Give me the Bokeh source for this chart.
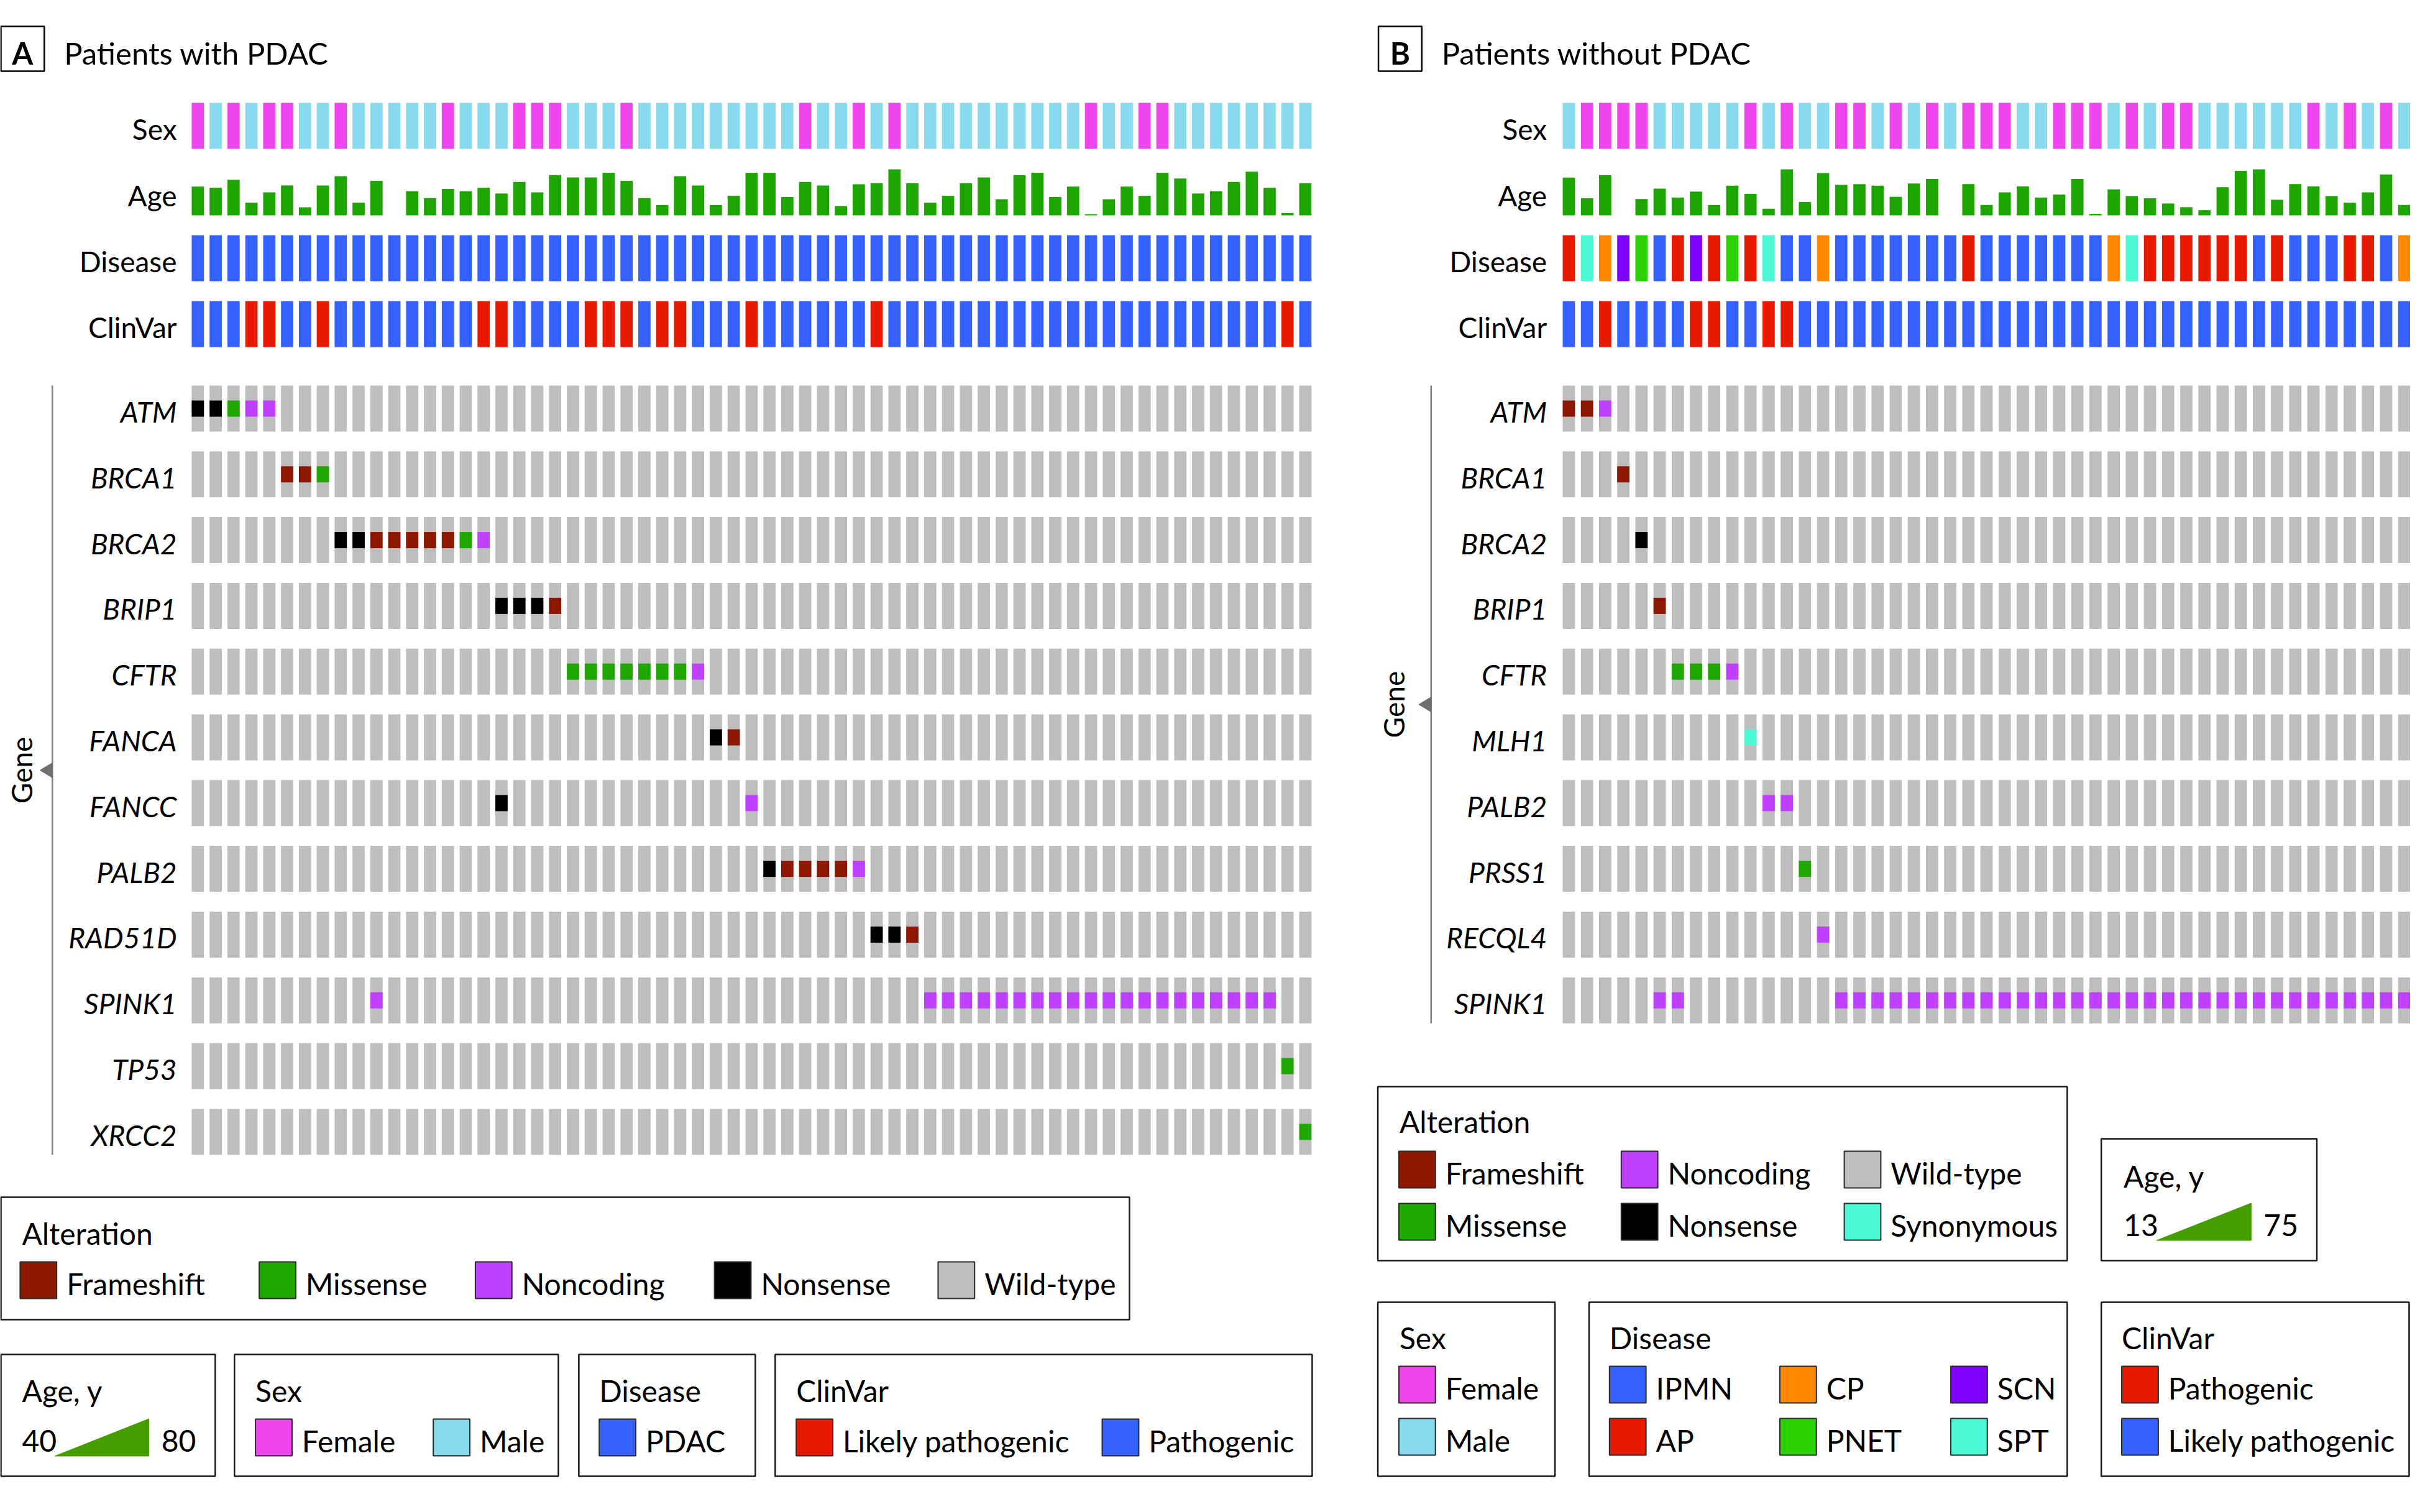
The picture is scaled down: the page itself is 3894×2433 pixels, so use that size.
import math
from bokeh.plotting import figure
from bokeh.models import Range1d, ColumnDataSource
from bokeh.core.properties import value
from bokeh.embed import file_html
from bokeh.resources import INLINE

# ======================= DATA =======================
# ---- Panel A: patients with PDAC (63 patients) ----
genes_A = ["ATM", "BRCA1", "BRCA2", "BRIP1", "CFTR", "FANCA", "FANCC",
           "PALB2", "RAD51D", "SPINK1", "TP53", "XRCC2"]
sex_A = list("FMFMFFMMFMMMMMFMMMFFFMMMFMMMMMMM" "MMFMMFMFMMMMMMMMMMFMMFFMMMMMMMM")
age_A = [65, 64, 71, 51, 60, 66, 47, 66, 74, 51, 70, 40, 61, 55, 63, 61, 64, 59, 69, 60,
         75, 73, 73, 77, 70, 55, 49, 74, 66, 49, 57, 77, 77, 56, 69, 66, 48, 67, 68, 80,
         68, 51, 57, 68, 73, 54, 75, 77, 56, 65, 41, 54, 65, 57, 77, 72, 59, 61, 69, 78,
         64, 42, 68]
age_range_A = [40, 80]
disease_A = ["PDAC"] * 63
clinvar_A = list("PPPLLPPLPP" "PPPPPPLLPP" "PPLLLPLLPP" "PLPPPPPPLP"
                 "PPPPPPPPPP" "PPPPPPPPPP" "PLP")   # P = Pathogenic, L = Likely pathogenic
mut_A = [("ATM", 0, "Nonsense"), ("ATM", 1, "Nonsense"), ("ATM", 2, "Missense"),
         ("ATM", 3, "Noncoding"), ("ATM", 4, "Noncoding"),
         ("BRCA1", 5, "Frameshift"), ("BRCA1", 6, "Frameshift"), ("BRCA1", 7, "Missense"),
         ("BRCA2", 8, "Nonsense"), ("BRCA2", 9, "Nonsense"), ("BRCA2", 10, "Frameshift"),
         ("BRCA2", 11, "Frameshift"), ("BRCA2", 12, "Frameshift"), ("BRCA2", 13, "Frameshift"),
         ("BRCA2", 14, "Frameshift"), ("BRCA2", 15, "Missense"), ("BRCA2", 16, "Noncoding"),
         ("BRIP1", 17, "Nonsense"), ("BRIP1", 18, "Nonsense"), ("BRIP1", 19, "Nonsense"),
         ("BRIP1", 20, "Frameshift"),
         ("CFTR", 21, "Missense"), ("CFTR", 22, "Missense"), ("CFTR", 23, "Missense"),
         ("CFTR", 24, "Missense"), ("CFTR", 25, "Missense"), ("CFTR", 26, "Missense"),
         ("CFTR", 27, "Missense"), ("CFTR", 28, "Noncoding"),
         ("FANCA", 29, "Nonsense"), ("FANCA", 30, "Frameshift"),
         ("FANCC", 17, "Nonsense"), ("FANCC", 31, "Noncoding"),
         ("PALB2", 32, "Nonsense"), ("PALB2", 33, "Frameshift"), ("PALB2", 34, "Frameshift"),
         ("PALB2", 35, "Frameshift"), ("PALB2", 36, "Frameshift"), ("PALB2", 37, "Noncoding"),
         ("RAD51D", 38, "Nonsense"), ("RAD51D", 39, "Nonsense"), ("RAD51D", 40, "Frameshift"),
         ("SPINK1", 10, "Noncoding")] + \
        [("SPINK1", c, "Noncoding") for c in range(41, 61)] + \
        [("TP53", 61, "Missense"), ("XRCC2", 62, "Missense")]

# ---- Panel B: patients without PDAC (47 patients) ----
genes_B = ["ATM", "BRCA1", "BRCA2", "BRIP1", "CFTR", "MLH1", "PALB2", "PRSS1", "RECQL4", "SPINK1"]
sex_B = list("MFFFFMMMMM" "FMFMMFFMFM" "FMFFFMMFFF" "MFMFFMMMMM" "MFMFMFM")
age_B = [64, 36, 67, 13, 35, 49, 37, 45, 27, 53, 42, 22, 75, 31, 70, 54, 55, 53, 38, 56,
         62, 13, 55, 27, 44, 52, 37, 41, 62, 15, 48, 39, 36, 29, 24, 20, 51, 73, 75, 34,
         55, 52, 39, 30, 44, 68, 27]
age_range_B = [13, 75]
disease_B = ["AP", "SPT", "CP", "SCN", "PNET", "IPMN", "AP", "SCN", "AP", "PNET",
             "AP", "SPT", "IPMN", "IPMN", "CP", "IPMN", "IPMN", "IPMN", "IPMN", "IPMN",
             "IPMN", "IPMN", "AP", "IPMN", "IPMN", "IPMN", "IPMN", "IPMN", "IPMN", "IPMN",
             "CP", "SPT", "AP", "AP", "AP", "AP", "AP", "AP", "IPMN", "AP",
             "IPMN", "IPMN", "IPMN", "AP", "AP", "IPMN", "CP"]
clinvar_B = list("LLPLLLLPPL" "LPPLLLLLLL" "LLLLLLLLLL" "LLLLLLLLLL" "LLLLLLL")
mut_B = [("ATM", 0, "Frameshift"), ("ATM", 1, "Frameshift"), ("ATM", 2, "Noncoding"),
         ("BRCA1", 3, "Frameshift"), ("BRCA2", 4, "Nonsense"), ("BRIP1", 5, "Frameshift"),
         ("CFTR", 6, "Missense"), ("CFTR", 7, "Missense"), ("CFTR", 8, "Missense"),
         ("CFTR", 9, "Noncoding"), ("MLH1", 10, "Synonymous"),
         ("PALB2", 11, "Noncoding"), ("PALB2", 12, "Noncoding"), ("PRSS1", 13, "Missense"),
         ("RECQL4", 14, "Noncoding"), ("SPINK1", 5, "Noncoding"), ("SPINK1", 6, "Noncoding")] + \
        [("SPINK1", c, "Noncoding") for c in range(15, 47)]

track_names = ["Sex", "Age", "Disease", "ClinVar"]

# ======================= STYLE =======================
C_FEMALE, C_MALE = "#EE45EE", "#88DAEE"
C_AGE, C_AGE_LEG = "#1EA600", "#449E00"
C_BLUE, C_RED = "#3461FF", "#E91900"
ALT_COL = {"Frameshift": "#8E1700", "Missense": "#1EA800", "Noncoding": "#BF40FF",
           "Nonsense": "#000000", "Wild-type": "#BEBEBE", "Synonymous": "#4DF8D5"}
DIS_COL = {"PDAC": C_BLUE, "IPMN": C_BLUE, "AP": C_RED, "CP": "#FF8800",
           "PNET": "#2BD100", "SCN": "#8000FF", "SPT": "#4DF8D5"}
SEX_COL = {"F": C_FEMALE, "M": C_MALE}
CLIN_COL_A = {"P": C_BLUE, "L": C_RED}
CLIN_COL_B = {"P": C_RED, "L": C_BLUE}

FONT = value("Lato")
TITLE_SZ, LAB_SZ, LEG_SZ = "49px", "46px", "48px"
TXT_DY = 5   # small optical correction so that capitals sit centred

TRACK_TOP = [173, 280, 386, 492]
TRACK_H = 74
GENE_TOP0, GENE_PITCH, CELL_H, MUT_H = 628, 105.8, 74, 26
BAR_W = 19.8

p = figure(width=3878, height=2417, x_range=Range1d(2, 3893), y_range=Range1d(2425, 8),
           output_backend="svg", toolbar_location=None,
           x_axis_location=None, y_axis_location=None, min_border=0,
           background_fill_color="white", border_fill_color="white")
p.grid.visible = False
p.outline_line_color = None


def txt(x, yc, s, size=LEG_SZ, align="left", style="normal", angle=0.0, color="black"):
    # yc: visual centre of the capital letters
    dy = TXT_DY if angle == 0.0 else 0
    p.text(x=[x], y=[yc + dy], text=[s], text_font=FONT, text_font_size=size, text_align=align,
           text_baseline="alphabetic", text_font_style=style, angle=angle, text_color=color)


def draw_panel(x0, pitch, sex, age, age_rng, disease, clinvar, clin_col, genes, muts,
               label_x, axis_x, gene_txt_x):
    n = len(sex)
    left = [x0 + i * pitch for i in range(n)]
    right = [l + BAR_W for l in left]
    # Sex
    t, b = TRACK_TOP[0], TRACK_TOP[0] + TRACK_H
    p.quad(source=ColumnDataSource(dict(l=left, r=right, t=[t] * n, b=[b] * n,
                                        c=[SEX_COL[s] for s in sex])),
           left="l", right="r", top="t", bottom="b", fill_color="c", line_color=None)
    # Age (bar heights scaled within track)
    lo, hi = age_rng
    base = TRACK_TOP[1] + TRACK_H
    idx = [i for i in range(n) if age[i] > lo]
    p.quad(source=ColumnDataSource(dict(
        l=[left[i] for i in idx], r=[right[i] for i in idx], b=[base] * len(idx),
        t=[base - (age[i] - lo) / (hi - lo) * TRACK_H for i in idx])),
        left="l", right="r", top="t", bottom="b", fill_color=C_AGE, line_color=None)
    # Disease
    t, b = TRACK_TOP[2], TRACK_TOP[2] + TRACK_H
    p.quad(source=ColumnDataSource(dict(l=left, r=right, t=[t] * n, b=[b] * n,
                                        c=[DIS_COL[d] for d in disease])),
           left="l", right="r", top="t", bottom="b", fill_color="c", line_color=None)
    # ClinVar
    t, b = TRACK_TOP[3], TRACK_TOP[3] + TRACK_H
    p.quad(source=ColumnDataSource(dict(l=left, r=right, t=[t] * n, b=[b] * n,
                                        c=[clin_col[c] for c in clinvar])),
           left="l", right="r", top="t", bottom="b", fill_color="c", line_color=None)
    for k, name in enumerate(track_names):
        txt(label_x, TRACK_TOP[k] + TRACK_H / 2, name, size=LAB_SZ, align="right")
    # Gene matrix background (wild-type)
    gl, gr, gt, gb = [], [], [], []
    for g in range(len(genes)):
        top = GENE_TOP0 + g * GENE_PITCH
        for i in range(n):
            gl.append(left[i]); gr.append(right[i]); gt.append(top); gb.append(top + CELL_H)
    p.quad(left=gl, right=gr, top=gt, bottom=gb, fill_color=ALT_COL["Wild-type"], line_color=None)
    # Alterations
    ml, mr, mt, mb, mc = [], [], [], [], []
    for gene, col, kind in muts:
        g = genes.index(gene)
        yc = GENE_TOP0 + g * GENE_PITCH + CELL_H / 2
        ml.append(left[col]); mr.append(right[col])
        mt.append(yc - MUT_H / 2); mb.append(yc + MUT_H / 2); mc.append(ALT_COL[kind])
    p.quad(source=ColumnDataSource(dict(l=ml, r=mr, t=mt, b=mb, c=mc)),
           left="l", right="r", top="t", bottom="b", fill_color="c", line_color=None)
    for g, gene in enumerate(genes):
        txt(label_x, GENE_TOP0 + g * GENE_PITCH + CELL_H / 2, gene, size=LAB_SZ,
            align="right", style="italic")
    # Gene axis line + pointer + title
    y_top = GENE_TOP0
    y_bot = GENE_TOP0 + (len(genes) - 1) * GENE_PITCH + CELL_H
    mid = (y_top + y_bot) / 2
    p.line([axis_x, axis_x], [y_top, y_bot], line_color="#808080", line_width=2.5)
    p.patch([axis_x - 20, axis_x, axis_x], [mid, mid - 12, mid + 12], fill_color="#6E6E6E",
            line_color="#6E6E6E")
    txt(gene_txt_x, mid, "Gene", size=LAB_SZ, align="center", angle=math.pi / 2)


draw_panel(311, 28.84, sex_A, age_A, age_range_A, disease_A, clinvar_A, CLIN_COL_A,
           genes_A, mut_A, 287, 86, 36)
draw_panel(2524.5, 29.32, sex_B, age_B, age_range_B, disease_B, clinvar_B, CLIN_COL_B,
           genes_B, mut_B, 2499, 2312, 2252)

# ---- Panel titles ----
for bx0, letter, title in [(3, "A", "Patients with PDAC"), (2227, "B", "Patients without PDAC")]:
    p.quad(left=[bx0], right=[bx0 + 70], top=[50], bottom=[122], fill_color=None,
           line_color="black", line_width=2.5)
    txt(bx0 + 35, 87, letter, size=TITLE_SZ, align="center", style="bold")
    txt(bx0 + 102, 87, title, size=TITLE_SZ)


# ======================= LEGENDS =======================
def box(l, r, t, b):
    p.quad(left=[l], right=[r], top=[t], bottom=[b], fill_color=None,
           line_color="#1A1A1A", line_width=2.5)


def item(x, yc, color, label):
    p.quad(left=[x], right=[x + 59], top=[yc - 29.5], bottom=[yc + 29.5], fill_color=color,
           line_color="#2A2A2A", line_width=2)
    txt(x + 75, yc, label)


def age_leg(x, yc, lo, hi, tri_l, tri_r, hi_x):
    txt(x, yc, str(lo))
    p.patch([tri_l, tri_r, tri_r], [yc + 30, yc + 30, yc - 30], fill_color=C_AGE_LEG,
            line_color=C_AGE_LEG)
    txt(hi_x, yc, str(hi))


alt_order_A = ["Frameshift", "Missense", "Noncoding", "Nonsense", "Wild-type"]
# Panel A legends
box(3, 1825, 1934, 2131)
txt(37, 1987, "Alteration")
for x, k in zip([34, 420, 769, 1155, 1516], alt_order_A):
    item(x, 2067.5, ALT_COL[k], k)
box(3, 349, 2187, 2383)
txt(37, 2240, "Age, y")
age_leg(37, 2320.5, age_range_A[0], age_range_A[1], 90, 242, 262)
box(380, 903, 2187, 2383)
txt(414, 2240, "Sex")
item(414, 2320.5, C_FEMALE, "Female")
item(701, 2320.5, C_MALE, "Male")
box(936, 1221, 2187, 2383)
txt(969, 2240, "Disease")
item(969, 2320.5, DIS_COL["PDAC"], "PDAC")
box(1253, 2120, 2187, 2383)
txt(1287, 2240, "ClinVar")
item(1287, 2320.5, CLIN_COL_A["L"], "Likely pathogenic")
item(1781, 2320.5, CLIN_COL_A["P"], "Pathogenic")

# Panel B legends
box(2226, 3339, 1756, 2036)
txt(2261, 1807, "Alteration")
alt_grid_B = [["Frameshift", "Noncoding", "Wild-type"], ["Missense", "Nonsense", "Synonymous"]]
for r, yc in enumerate([1889.5, 1973.5]):
    for x, k in zip([2260, 2619, 2979], alt_grid_B[r]):
        item(x, yc, ALT_COL[k], k)
box(3394, 3742, 1840, 2036)
txt(3430, 1895, "Age, y")
age_leg(3430, 1973.5, age_range_B[0], age_range_B[1], 3483, 3636, 3656)
box(2226, 2512, 2103, 2383)
txt(2261, 2155, "Sex")
item(2260, 2235.5, C_FEMALE, "Female")
item(2260, 2319.5, C_MALE, "Male")
box(2567, 3339, 2103, 2383)
txt(2600, 2155, "Disease")
dis_grid_B = [["IPMN", "CP", "SCN"], ["AP", "PNET", "SPT"]]
for r, yc in enumerate([2235.5, 2319.5]):
    for x, k in zip([2600, 2875, 3151], dis_grid_B[r]):
        item(x, yc, DIS_COL[k], k)
box(3394, 3891, 2103, 2383)
txt(3427, 2155, "ClinVar")
item(3427, 2235.5, CLIN_COL_B["P"], "Pathogenic")
item(3427, 2319.5, CLIN_COL_B["L"], "Likely pathogenic")

open("out.html", "w").write(file_html(p, INLINE))
